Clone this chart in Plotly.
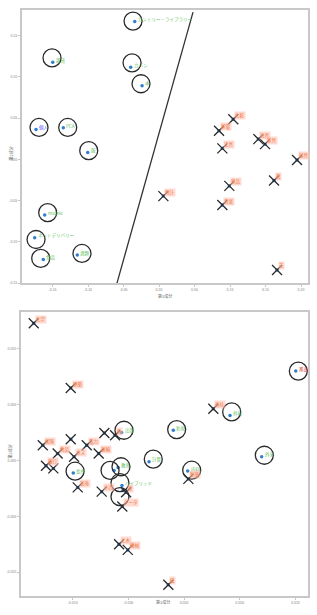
import plotly.graph_objects as go

# ---------------- top panel data ----------------
top_circ_x = [-0.0342, -0.1497, -0.0399, -0.0239, -0.1732, -0.1348, -0.1004, -0.1610, -0.1751, -0.1630, -0.1151]
top_circ_y = [0.1671, 0.1177, 0.1117, 0.0892, 0.0361, 0.0382, 0.0084, -0.0675, -0.0952, -0.1213, -0.1160]
top_ring_x = [-0.0366, -0.1507, -0.0380, -0.0254, -0.1690, -0.1286, -0.0990, -0.1568, -0.1732, -0.1666, -0.1085]
top_ring_y = [0.1675, 0.1229, 0.1169, 0.0916, 0.0386, 0.0386, 0.0105, -0.0647, -0.0972, -0.1201, -0.1141]
top_circ_labels = ["カントリー・ライブラリー", "雑貨", "カバン", "本", "個人", "PCA", "服",
                   "mobile", "ネットデリバリー", "食品", "酒類"]
top_circ_colors = ["g", "g", "g", "g", "b", "g", "g", "g", "g", "g", "g"]

top_x_x = [0.1046, 0.0845, 0.1399, 0.1493, 0.0892, 0.1944, 0.0990, 0.1620, 0.0061, 0.0892, 0.1662]
top_x_y = [0.0486, 0.0346, 0.0245, 0.0184, 0.0133, -0.0008, -0.0322, -0.0257, -0.0446, -0.0554, -0.1341]
top_x_labels = ["化粧", "家電", "玩具", "家具", "文具", "寝具", "薬品", "靴", "時計", "音楽", "花"]

top_line_x = [0.0479, -0.0592]
top_line_y = [0.1783, -0.1500]

top_xticks = [-0.15, -0.10, -0.05, 0.00, 0.05, 0.10, 0.15, 0.20]
top_yticks = [-0.15, -0.10, -0.05, 0.00, 0.05, 0.10, 0.15]

# ---------------- bottom panel data ----------------
bot_circ_x = [-0.00994, -0.00628, -0.00592, -0.00557, -0.00548, -0.00314, -0.00560, 0.01003, 0.00413, -0.00096, 0.00697, 0.00033]
bot_circ_y = [-0.00113, -0.00089, -0.00063, -0.00223, -0.00268, -0.00012, 0.00250, 0.00801, 0.00404, 0.00271, 0.00033, -0.00095]
bot_ring_x = [-0.00978, -0.00664, -0.00566, -0.00575, -0.00575, -0.00276, -0.00539, 0.01026, 0.00428, -0.00066, 0.00721, 0.00069]
bot_ring_y = [-0.00096, -0.00089, -0.00056, -0.00199, -0.00324, 0.00012, 0.00271, 0.00801, 0.00435, 0.00277, 0.00047, -0.00087]
bot_circ_labels = ["長所", "", "教育", "ハイブリッド", "", "計算", "出版", "進出", "外科", "新規", "外来", "内科"]
bot_circ_colors = ["g", "g", "g", "g", "g", "g", "g", "r", "g", "g", "g", "g"]

bot_x_x = [-0.01349, -0.01017, -0.00715, -0.00619, -0.01268, -0.01134, -0.01017, -0.00873, -0.00987, -0.00766,
           -0.01239, -0.01173, -0.00954, -0.00739, -0.00554, -0.00583, -0.00505, -0.00141, 0.00263, 0.00039, -0.00520]
bot_x_y = [0.01229, 0.00649, 0.00247, 0.00226, 0.00137, 0.00063, 0.00190, 0.00137, 0.00033, 0.00063,
           -0.00047, -0.00071, -0.00241, -0.00279, -0.00413, -0.00750, -0.00801, -0.01113, 0.00464, -0.00165, -0.00285]
bot_x_labels = ["化学", "建築", "", "魚", "保険", "食品", "", "電力", "ガス", "運輸",
                "銀行", "", "証券", "小売", "データ", "土木", "機械", "紙", "商社", "製薬", "車"]

bot_xticks = [-0.010, -0.005, 0.000, 0.005, 0.010]
bot_yticks = [-0.010, -0.005, 0.000, 0.005, 0.010]

axis_title_x = "第1成分"
axis_title_y = "第2成分"

# ---------------- styling ----------------
FONT = "Noto Sans CJK JP"
label_colors = {"g": "#5fbf5f", "b": "#4f4fff", "r": "#d62a2a"}
X_TXT = "#ee7a45"
X_BG = "rgba(255,190,175,0.55)"

fig = go.Figure()

panels = [
    dict(xa="x", ya="y", cx=top_circ_x, cy=top_circ_y, rx=top_ring_x, ry=top_ring_y,
         cl=top_circ_labels, cc=top_circ_colors, xx=top_x_x, xy=top_x_y, xl=top_x_labels),
    dict(xa="x2", ya="y2", cx=bot_circ_x, cy=bot_circ_y, rx=bot_ring_x, ry=bot_ring_y,
         cl=bot_circ_labels, cc=bot_circ_colors, xx=bot_x_x, xy=bot_x_y, xl=bot_x_labels),
]

# decision line on top panel
fig.add_trace(go.Scatter(x=top_line_x, y=top_line_y, mode="lines", xaxis="x", yaxis="y",
                         line=dict(color="#333333", width=1.3), showlegend=False, hoverinfo="skip"))

annotations = []
for p in panels:
    # blue dots
    fig.add_trace(go.Scatter(x=p["cx"] + p["xx"], y=p["cy"] + p["xy"], mode="markers",
                             xaxis=p["xa"], yaxis=p["ya"], showlegend=False,
                             marker=dict(color="#2f7fd0", size=3.5, line=dict(width=0))))
    # rings
    fig.add_trace(go.Scatter(x=p["rx"], y=p["ry"], mode="markers", xaxis=p["xa"], yaxis=p["ya"],
                             showlegend=False,
                             marker=dict(symbol="circle-open", size=18, color="#2a2a2a",
                                         line=dict(width=1.3, color="#2a2a2a"))))
    # crosses
    fig.add_trace(go.Scatter(x=p["xx"], y=p["xy"], mode="markers", xaxis=p["xa"], yaxis=p["ya"],
                             showlegend=False,
                             marker=dict(symbol="x-thin-open", size=10, color="#2a2a2a",
                                         line=dict(width=1.3, color="#2a2a2a"))))
    for x, y, t, c in zip(p["cx"], p["cy"], p["cl"], p["cc"]):
        if t:
            annotations.append(dict(x=x, y=y, xref=p["xa"], yref=p["ya"], text=t, showarrow=False,
                                    xanchor="left", yanchor="middle", xshift=1, yshift=2,
                                    font=dict(family=FONT, size=4.5, color=label_colors[c])))
    for x, y, t in zip(p["xx"], p["xy"], p["xl"]):
        if t:
            annotations.append(dict(x=x, y=y, xref=p["xa"], yref=p["ya"], text=t, showarrow=False,
                                    xanchor="left", yanchor="middle", xshift=1, yshift=4,
                                    bgcolor=X_BG, borderpad=0,
                                    font=dict(family=FONT, size=4.5, color=X_TXT)))

# axis titles
for xt, yt in [((165 / 317), 1 - 297 / 615), ((163 / 317), 1 - 609 / 615)]:
    annotations.append(dict(x=xt, y=yt, xref="paper", yref="paper", text=axis_title_x, showarrow=False,
                            font=dict(family=FONT, size=4, color="#666")))
for xt, yt in [((6 / 317), 1 - 145 / 615), ((5 / 317), 1 - 462 / 615)]:
    annotations.append(dict(x=xt, y=yt, xref="paper", yref="paper", text=axis_title_y, showarrow=False,
                            textangle=-90, font=dict(family=FONT, size=4, color="#666")))

def ax(domain, rng, ticks, fmt, anchor):
    return dict(domain=domain, range=rng, tickvals=ticks, ticktext=[fmt.format(v) for v in ticks],
                showline=True, mirror=True, linecolor="#c8c8c8", linewidth=1.5,
                ticks="outside", ticklen=2, tickwidth=1, tickcolor="#c8c8c8",
                tickfont=dict(family=FONT, size=3.5, color="#888"),
                showgrid=False, zeroline=False, anchor=anchor)

fig.update_layout(
    width=317, height=615, margin=dict(l=0, r=0, t=0, b=0),
    paper_bgcolor="white", plot_bgcolor="white", showlegend=False,
    xaxis=ax([21.7 / 317, 307.7 / 317], [-0.1934, 0.2094], top_xticks, "{:.2f}", "y"),
    yaxis=ax([1 - 284 / 615, 1 - 10 / 615], [-0.1500, 0.1810], top_yticks, "{:.2f}", "x"),
    xaxis2=ax([20.7 / 317, 308 / 317], [-0.01466, 0.01113], bot_xticks, "{:.3f}", "y2"),
    yaxis2=ax([1 - 597.7 / 615, 1 - 313.3 / 615], [-0.01212, 0.01328], bot_yticks, "{:.3f}", "x2"),
    annotations=annotations,
)

fig.write_html("out.html")
